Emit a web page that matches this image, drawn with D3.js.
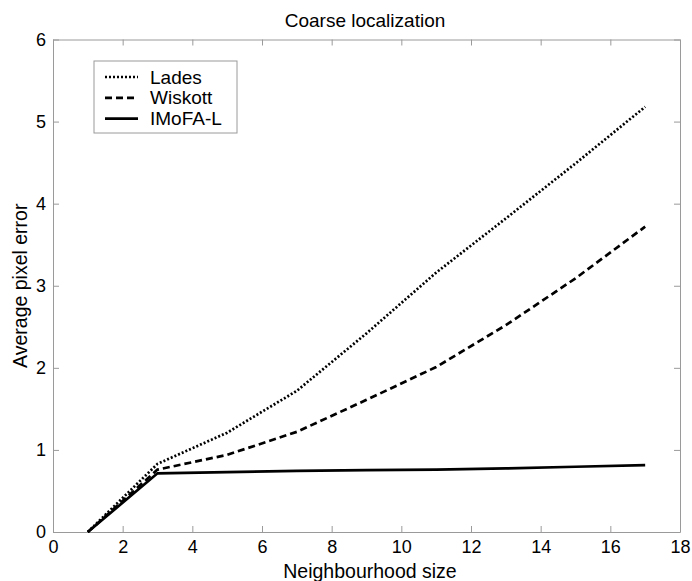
<!DOCTYPE html>
<html>
<head>
<meta charset="utf-8">
<script src="https://cdn.jsdelivr.net/npm/d3@7"></script>
<style>
  body { margin: 0; background: #fff; }
  text { font-family: "Liberation Sans", Arial, Helvetica, sans-serif; fill: #000; }
</style>
</head>
<body>
<div id="chart"></div>
<script>
// neighbourhood sizes and average pixel errors
const sizes   = [1, 3, 5, 7, 9, 11, 13, 15, 17];
const lades   = [0, 0.83, 1.21, 1.72, 2.42, 3.16, 3.82, 4.49, 5.18];
const wiskott = [0, 0.76, 0.94, 1.22, 1.61, 2.01, 2.52, 3.09, 3.72];
const imofa   = [0, 0.715, 0.73, 0.745, 0.755, 0.76, 0.775, 0.795, 0.815];

const xTicks = [0, 2, 4, 6, 8, 10, 12, 14, 16, 18];
const yTicks = [0, 1, 2, 3, 4, 5, 6];

const series = [
  {name: "Lades",   values: lades,   dash: "2,2"},
  {name: "Wiskott", values: wiskott, dash: "7,4"},
  {name: "IMoFA-L", values: imofa,   dash: null}
];

const W = 692, H = 581;
const margin = {top: 39.5, right: 12, bottom: 49, left: 53};
const width = W - margin.left - margin.right;
const height = H - margin.top - margin.bottom;

const svg = d3.select("#chart").append("svg")
  .attr("width", W)
  .attr("height", H);

const g = svg.append("g")
  .attr("transform", "translate(" + margin.left + "," + margin.top + ")");

const x = d3.scaleLinear().domain([0, 18]).range([0, width]);
const y = d3.scaleLinear().domain([0, 6]).range([height, 0]);

const axisColor = "#9a9a9a";
const fmt = d3.format("d");

// box round the plot, ticks pointing inward on all four sides
function styleAxis(sel) {
  sel.select(".domain").attr("stroke", axisColor).attr("stroke-width", 1);
  sel.selectAll(".tick line").attr("stroke", axisColor).attr("stroke-width", 1);
}

g.append("g")
  .attr("transform", "translate(0," + height + ")")
  .call(d3.axisBottom(x).tickValues(xTicks).tickFormat(fmt).tickSize(-6).tickPadding(8).tickSizeOuter(0))
  .call(styleAxis)
  .call(s => s.selectAll(".tick text").attr("font-size", 18).attr("font-family", null));

g.append("g")
  .call(d3.axisTop(x).tickValues(xTicks).tickSize(-6).tickSizeOuter(0))
  .call(styleAxis)
  .call(s => s.selectAll(".tick text").remove());

g.append("g")
  .call(d3.axisLeft(y).tickValues(yTicks).tickFormat(fmt).tickSize(-6).tickPadding(7).tickSizeOuter(0))
  .call(styleAxis)
  .call(s => s.selectAll(".tick text").attr("font-size", 18).attr("font-family", null));

g.append("g")
  .attr("transform", "translate(" + width + ",0)")
  .call(d3.axisRight(y).tickValues(yTicks).tickSize(-6).tickSizeOuter(0))
  .call(styleAxis)
  .call(s => s.selectAll(".tick text").remove());

// lines
const line = d3.line()
  .x(d => x(d[0]))
  .y(d => y(d[1]));

g.selectAll(".series")
  .data(series)
  .enter().append("path")
  .attr("class", "series")
  .attr("fill", "none")
  .attr("stroke", "#000")
  .attr("stroke-width", 2.7)
  .attr("stroke-dasharray", d => d.dash)
  .attr("d", d => line(sizes.map((s, i) => [s, d.values[i]])));

// title and axis labels
svg.append("text")
  .attr("x", 365)
  .attr("y", 27)
  .attr("text-anchor", "middle")
  .attr("font-size", 19)
  .text("Coarse localization");

svg.append("text")
  .attr("x", 370)
  .attr("y", 578)
  .attr("text-anchor", "middle")
  .attr("font-size", 19.5)
  .text("Neighbourhood size");

svg.append("text")
  .attr("transform", "translate(27," + (margin.top + height / 2) + ") rotate(-90)")
  .attr("text-anchor", "middle")
  .attr("font-size", 19.5)
  .text("Average pixel error");

// legend
const legend = svg.append("g").attr("transform", "translate(94,61)");
legend.append("rect")
  .attr("width", 143)
  .attr("height", 72)
  .attr("fill", "#fff")
  .attr("stroke", axisColor)
  .attr("stroke-width", 1);

const items = legend.selectAll(".item")
  .data(series)
  .enter().append("g")
  .attr("class", "item")
  .attr("transform", (d, i) => "translate(0," + (16 + i * 20.8) + ")");

items.append("line")
  .attr("x1", 11).attr("x2", 44)
  .attr("stroke", "#000")
  .attr("stroke-width", 2.7)
  .attr("stroke-dasharray", d => d.dash);

items.append("text")
  .attr("x", 56)
  .attr("y", 6.5)
  .attr("font-size", 19)
  .text(d => d.name);
</script>
</body>
</html>
